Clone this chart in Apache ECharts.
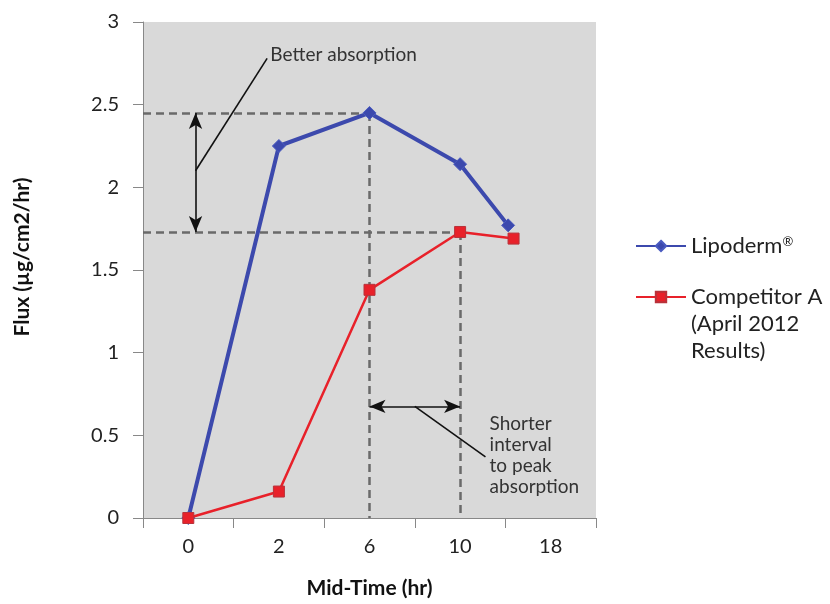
<!DOCTYPE html>
<html><head><meta charset="utf-8">
<script src="https://cdn.jsdelivr.net/npm/echarts@6/dist/echarts.min.js"></script>
<style>html,body{margin:0;padding:0;background:#fff}#c{width:830px;height:604px}</style>
</head><body><div id="c"></div>
<script>
const categories = ['0', '2', '6', '10', '18'];
const lipoX = [0, 1, 2, 3, 3.53];
const lipoY = [0, 2.25, 2.45, 2.14, 1.77];
const compX = [0, 1, 2, 3, 3.59];
const compY = [0, 0.16, 1.38, 1.73, 1.69];
const yTicks = [0, 0.5, 1, 1.5, 2, 2.5, 3];

const FONT = 'Lato';
const chart = echarts.init(document.getElementById('c'));
const pair = (xs, ys) => xs.map((x, i) => [x, ys[i]]);
const dash = {type: [8, 5], color: '#6a6a6a', width: 2.5};
const arrowStyle = {color: '#111', width: 1.6, type: 'solid'};

chart.setOption({
  animation: false,
  textStyle: {fontFamily: FONT},
  grid: {left: 143, right: 234, top: 22, bottom: 84, show: true, backgroundColor: '#d9d9d9', borderWidth: 0},
  xAxis: [{
    type: 'category', data: categories, boundaryGap: true,
    axisLine: {lineStyle: {color: '#888', width: 1}},
    axisTick: {show: true, length: 10, lineStyle: {color: '#888'}},
    axisLabel: {fontSize: 20, color: '#222', margin: 19, fontFamily: FONT},
    name: 'Mid-Time (hr)', nameLocation: 'middle', nameGap: 60,
    nameTextStyle: {fontSize: 21, fontWeight: 'bold', color: '#111', fontFamily: FONT}
  }, {
    type: 'value', min: -0.5, max: 4.5, show: false
  }],
  yAxis: {
    type: 'value', min: 0, max: 3, interval: 0.5,
    splitLine: {show: false},
    axisLine: {show: true, onZero: false, lineStyle: {color: '#888', width: 1}},
    axisTick: {show: true, length: 10, lineStyle: {color: '#888'}},
    axisLabel: {fontSize: 20, color: '#222', margin: 24, fontFamily: FONT,
      formatter: v => yTicks.includes(v) ? String(v) : ''},
    name: 'Flux (µg/cm2/hr)', nameLocation: 'middle', nameGap: 110,
    nameTextStyle: {fontSize: 21, fontWeight: 'bold', color: '#111', fontFamily: FONT, padding: [0, 0, 0, 26]}
  },
  legend: {
    orient: 'vertical', left: 630, top: 230, itemWidth: 50, itemHeight: 13, itemGap: 29,
    data: ['Lipoderm®', 'Competitor A'],
    formatter: n => n === 'Lipoderm®' ? '{a|Lipoderm}{s|®}' : '{a|' + n + '}',
    textStyle: {fontSize: 22, color: '#222', fontFamily: FONT,
      rich: {a: {fontSize: 22, color: '#222', fontFamily: FONT},
             s: {fontSize: 13, color: '#222', fontFamily: FONT, verticalAlign: 'top', padding: [0, 0, 8, 0]}}},
    selectedMode: false
  },
  graphic: [{
    type: 'text', left: 691, top: 310,
    style: {text: '(April 2012\nResults)', fontSize: 22, lineHeight: 27, fill: '#222', fontFamily: FONT}
  }],
  series: [{
    name: 'Lipoderm®', type: 'line', xAxisIndex: 1,
    data: pair(lipoX, lipoY),
    symbol: 'diamond', symbolSize: 13,
    lineStyle: {color: '#3c49ad', width: 4},
    itemStyle: {color: '#3c49ad', borderColor: '#4a5bc0', borderWidth: 1},
    z: 5,
    markLine: {
      silent: true, symbol: ['none', 'none'], label: {show: false}, lineStyle: dash, z: 3,
      data: [
        [{coord: [-0.5, lipoY[2]]}, {coord: [lipoX[2], lipoY[2]]}],
        [{coord: [lipoX[2], lipoY[2]]}, {coord: [lipoX[2], 0]}],
        [{coord: [-0.5, compY[3]]}, {coord: [compX[3], compY[3]]}],
        [{coord: [compX[3], compY[3]]}, {coord: [compX[3], 0]}]
      ]
    }
  }, {
    name: 'Competitor A', type: 'line', xAxisIndex: 1,
    data: pair(compX, compY),
    symbol: 'rect', symbolSize: 11,
    lineStyle: {color: '#e8212a', width: 2.5},
    itemStyle: {color: '#e8212a', borderColor: '#b8323a', borderWidth: 1},
    z: 6,
    markLine: {
      silent: true, symbol: ['arrow', 'arrow'], symbolSize: [10, 16], label: {show: false},
      lineStyle: arrowStyle,
      data: [
        [{coord: [0.08, lipoY[2]]}, {coord: [0.08, compY[3]]}],
        [{coord: [lipoX[2], 0.675]}, {coord: [compX[3], 0.675]}],
        [{coord: [0.08, 2.1], symbol: 'none'}, {coord: [0.87, 2.78], symbol: 'none'}],
        [{coord: [2.5, 0.675], symbol: 'none'}, {coord: [3.28, 0.37], symbol: 'none'}]
      ]
    },
    markPoint: {
      silent: true, symbol: 'circle', symbolSize: 1, itemStyle: {color: 'rgba(0,0,0,0)'},
      label: {show: true, position: 'right', distance: 0, color: '#333', fontSize: 19, fontFamily: FONT},
      data: [
        {coord: [0.9, 2.8], label: {formatter: 'Better absorption'}},
        {coord: [3.32, 0.38], label: {formatter: 'Shorter\ninterval\nto peak\nabsorption', lineHeight: 21}}
      ]
    }
  }]
});
</script></body></html>
